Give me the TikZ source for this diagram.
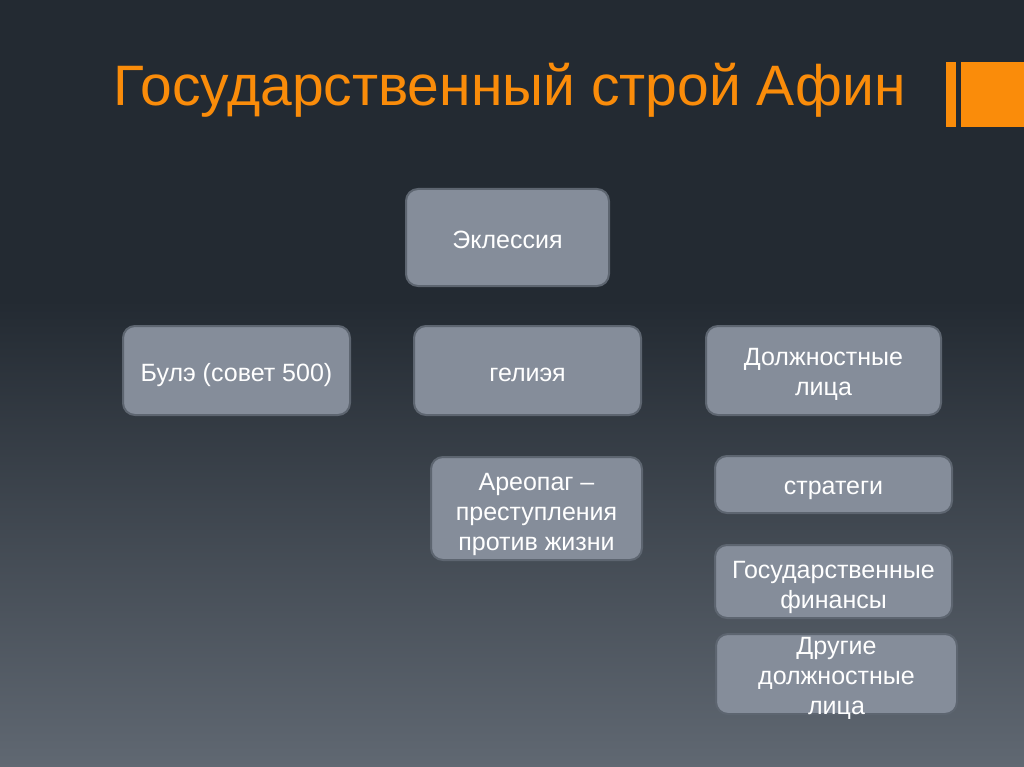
\documentclass[tikz,border=0pt]{standalone}
\usepackage{fontspec}
\setmainfont{Liberation Sans}
\definecolor{bgtop}{RGB}{35,42,50}
\definecolor{bgbot}{RGB}{96,104,114}
\definecolor{ttl}{RGB}{250,140,10}
\definecolor{boxfill}{RGB}{133,141,154}
\definecolor{boxline}{RGB}{93,101,112}
\tikzset{
  box/.style={draw=boxline, line width=2pt, fill=boxfill, rounded corners=12pt,
    inner sep=0pt},
  boxtext/.style={text=white, align=center, inner sep=0pt,
    font=\fontsize{25}{30}\selectfont},
  bar/.style={fill=ttl, draw=none}
}
\begin{document}
\begin{tikzpicture}[x=1pt,y=-1pt]
\useasboundingbox (0,0) rectangle (1024,767);
\fill[bgtop] (0,0) rectangle (1024,301);
\shade[top color=bgtop, bottom color=bgbot] (0,300) rectangle (1024,767);
% title
\node[anchor=base west, inner sep=0pt, text=ttl, font=\fontsize{57}{60}\selectfont] (title) at (113,106) {Государственный строй Афин};
\fill[bar] (946,62) rectangle (956,127);
\fill[bar] (961,62) rectangle (1024,127);
% boxes
\node[box, minimum width=203pt, minimum height=97pt] (ekl) at (507.5,237.5) {};
\node[boxtext] (eklt) at ([yshift=-2pt]ekl.center) {Эклессия};
\node[box, minimum width=227pt, minimum height=89pt] (bule) at (236.5,370.5) {};
\node[boxtext] (bulet) at ([yshift=-5pt]bule.center) {Булэ (совет 500)};
\node[box, minimum width=227pt, minimum height=89pt] (heliaia) at (527.5,370.5) {};
\node[boxtext] (heliaiat) at ([yshift=-4pt]heliaia.center) {гелиэя};
\node[box, minimum width=235pt, minimum height=89pt] (dolzh) at (823.5,370.5) {};
\node[boxtext] (dolzht) at ([yshift=-4pt]dolzh.center) {Должностные\\лица};
\node[box, minimum width=211pt, minimum height=103pt] (areopag) at (536.5,508.5) {};
\node[boxtext] (areopagt) at ([yshift=-6pt]areopag.center) {Ареопаг –\\преступления\\против жизни};
\node[box, minimum width=237pt, minimum height=57pt] (strat) at (833.5,484.5) {};
\node[boxtext] (stratt) at ([yshift=-6pt]strat.center) {стратеги};
\node[box, minimum width=237pt, minimum height=73pt] (fin) at (833.5,581.5) {};
\node[boxtext] (fint) at ([yshift=-6pt]fin.center) {Государственные\\финансы};
\node[box, minimum width=241pt, minimum height=80pt] (other) at (836.5,674) {};
\node[boxtext] (othert) at ([yshift=-4pt]other.center) {Другие\\должностные\\лица};
\end{tikzpicture}
\end{document}
